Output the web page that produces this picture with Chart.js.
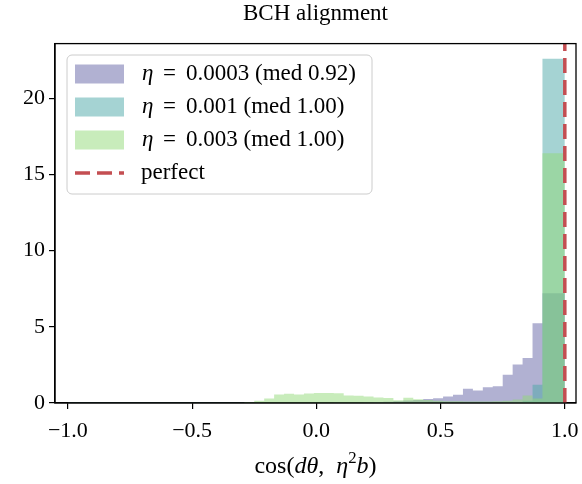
<!DOCTYPE html>
<html>
<head>
  <meta charset="utf-8">
  <title>BCH alignment</title>
  <script src="https://cdn.jsdelivr.net/npm/chart.js"></script>
  <style>
    body { margin: 0; background: #fff; }
    #wrap { width: 582px; height: 484px; }
  </style>
</head>
<body>
  <div id="wrap"><canvas id="hist" width="582" height="484"></canvas></div>

  <script>
    // histogram bin edges (shared by the three runs)
    const binEdges = [-1.0, -0.97, -0.93, -0.89, -0.85, -0.81, -0.77, -0.73, -0.69, -0.65,
      -0.61, -0.57, -0.53, -0.49, -0.45, -0.41, -0.37, -0.33, -0.29, -0.25,
      -0.21, -0.17, -0.13, -0.09, -0.05, -0.01, 0.03, 0.07, 0.11, 0.15,
      0.19, 0.23, 0.27, 0.31, 0.35, 0.39, 0.43, 0.47, 0.51, 0.55,
      0.59, 0.63, 0.67, 0.71, 0.75, 0.79, 0.83, 0.87, 0.91, 0.95, 1.0];

    // density per bin
    const eta0003 = [0.02, 0.02, 0.02, 0.02, 0.02, 0.02, 0.02, 0.02, 0.02, 0.02,
      0.02, 0.02, 0.02, 0.02, 0.02, 0.02, 0.02, 0.02, 0.02, 0.02,
      0.02, 0.02, 0.02, 0.02, 0.02, 0.02, 0.02, 0.02, 0.03, 0.03,
      0.04, 0.05, 0.06, 0.08, 0.12, 0.16, 0.2, 0.27, 0.32, 0.43,
      0.54, 0.93, 0.82, 1.04, 1.1, 1.85, 2.53, 2.95, 5.24, 7.2];
    const eta001 = [0.01, 0.01, 0.01, 0.01, 0.01, 0.01, 0.01, 0.01, 0.01, 0.01,
      0.01, 0.01, 0.01, 0.01, 0.01, 0.01, 0.01, 0.01, 0.01, 0.01,
      0.01, 0.01, 0.01, 0.01, 0.01, 0.01, 0.01, 0.01, 0.01, 0.01,
      0.01, 0.01, 0.01, 0.01, 0.01, 0.01, 0.01, 0.01, 0.01, 0.01,
      0.01, 0.01, 0.01, 0.01, 0.01, 0.03, 0.05, 0.15, 1.2, 22.6];
    const eta003 = [0.02, 0.02, 0.02, 0.02, 0.02, 0.02, 0.02, 0.02, 0.02, 0.02,
      0.02, 0.02, 0.02, 0.02, 0.02, 0.02, 0.02, 0.02, 0.02, 0.05,
      0.15, 0.3, 0.55, 0.6, 0.55, 0.62, 0.65, 0.66, 0.64, 0.5,
      0.47, 0.42, 0.36, 0.33, 0.18, 0.35, 0.25, 0.2, 0.15, 0.12,
      0.12, 0.1, 0.1, 0.1, 0.12, 0.15, 0.23, 0.5, 0.3, 16.4];

    const etaNames = ['0.0003', '0.001', '0.003'];
    const medians = ['0.92', '1.00', '1.00'];
    const xTicks = [-1, -0.5, 0, 0.5, 1];
    const yTicks = [0, 5, 10, 15, 20];

    const FONT = "'Liberation Serif', 'Times New Roman', serif";

    function stepPoints(h) {
      const pts = h.map((y, i) => ({ x: binEdges[i], y }));
      pts.push({ x: binEdges[h.length], y: h[h.length - 1] });
      return pts;
    }

    function histSet(h, color, order) {
      return {
        data: stepPoints(h), stepped: 'after', fill: 'origin',
        backgroundColor: color, borderWidth: 0, pointRadius: 0, order
      };
    }

    // draw a run of [text, style] pieces, styles: r (roman), i (italic), s (superscript)
    function drawPieces(ctx, pieces, size, cx, cy) {
      const fontOf = st => (st === 'i' ? 'italic ' : '') + (st === 's' ? size * 0.7 : size) + 'px ' + FONT;
      let total = 0;
      pieces.forEach(([t, st]) => { ctx.font = fontOf(st); total += ctx.measureText(t).width; });
      let x = cx - total / 2;
      pieces.forEach(([t, st]) => {
        ctx.font = fontOf(st);
        ctx.fillText(t, x, st === 's' ? cy - size * 0.35 : cy);
        x += ctx.measureText(t).width;
      });
    }

    // frame, legend and axis label drawn on top of the plot
    const framePlugin = {
      id: 'frame',
      afterDatasetsDraw(chart) {
        const { ctx, chartArea: a } = chart;
        ctx.save();
        ctx.strokeStyle = '#000';
        ctx.lineWidth = 1.3;
        ctx.strokeRect(a.left, a.top, a.right - a.left, a.bottom - a.top);

        // legend box
        const bx = 67, by = 55, bw = 305, bh = 139, r = 5;
        ctx.beginPath();
        ctx.moveTo(bx + r, by);
        ctx.arcTo(bx + bw, by, bx + bw, by + bh, r);
        ctx.arcTo(bx + bw, by + bh, bx, by + bh, r);
        ctx.arcTo(bx, by + bh, bx, by, r);
        ctx.arcTo(bx, by, bx + bw, by, r);
        ctx.closePath();
        ctx.fillStyle = 'rgba(255,255,255,0.85)';
        ctx.fill();
        ctx.strokeStyle = '#cccccc';
        ctx.lineWidth = 1;
        ctx.stroke();

        const rows = [74, 107, 140, 173];
        const ds = chart.data.datasets;
        ctx.textBaseline = 'middle';
        for (let i = 0; i < 3; i++) {
          ctx.fillStyle = ds[i].backgroundColor;
          ctx.fillRect(75, rows[i] - 9.5, 49, 19);
          ctx.fillStyle = '#000';
          ctx.font = 'italic 23px ' + FONT;
          ctx.fillText('\u03b7', 142, rows[i]);
          ctx.font = '23px ' + FONT;
          ctx.fillText('=', 163, rows[i]);
          ctx.fillText(etaNames[i] + ' (med ' + medians[i] + ')', 186, rows[i]);
        }
        ctx.strokeStyle = ds[3].borderColor;
        ctx.lineWidth = 3.5;
        ctx.setLineDash([15, 7]);
        ctx.beginPath();
        ctx.moveTo(75, rows[3]);
        ctx.lineTo(124, rows[3]);
        ctx.stroke();
        ctx.setLineDash([]);
        ctx.fillStyle = '#000';
        ctx.font = '23px ' + FONT;
        ctx.fillText('perfect', 141, rows[3]);

        // x axis label with math italics
        drawPieces(ctx, [['cos(', 'r'], ['d\u03b8', 'i'], [',  ', 'r'], ['\u03b7', 'i'],
          ['2', 's'], ['b', 'i'], [')', 'r']], 24, (a.left + a.right) / 2, 467);
        ctx.restore();
      }
    };

    const fmt = v => (v < 0 ? '\u2212' : '') + Math.abs(v).toFixed(1);

    new Chart(document.getElementById('hist'), {
      type: 'line',
      data: {
        datasets: [
          histSet(eta0003, 'rgba(100,100,165,0.5)', 4),
          histSet(eta001, 'rgba(75,168,168,0.5)', 3),
          histSet(eta003, 'rgba(145,218,120,0.5)', 2),
          {
            data: [{ x: 1, y: 0 }, { x: 1, y: 23.6 }],
            borderColor: '#c44e52', borderWidth: 3.5, borderDash: [15, 7],
            pointRadius: 0, fill: false, order: 1
          }
        ]
      },
      options: {
        responsive: false,
        animation: false,
        devicePixelRatio: 1,
        layout: { padding: { left: 0, right: 6, top: 0, bottom: 0 } },
        plugins: {
          legend: { display: false },
          tooltip: { enabled: false },
          title: {
            display: true, text: 'BCH alignment', color: '#000', fullSize: false,
            font: { family: FONT, size: 23, weight: 'normal' },
            padding: { top: 0, bottom: 16 }
          }
        },
        scales: {
          x: {
            type: 'linear', min: -1.052, max: 1.045,
            afterBuildTicks: s => { s.ticks = xTicks.map(v => ({ value: v })); },
            afterFit: s => { s.height = 81; s.paddingLeft = 0; s.paddingRight = 0; },
            ticks: { color: '#000', font: { family: FONT, size: 22 }, padding: 9, callback: fmt, maxRotation: 0 },
            grid: { drawOnChartArea: false, drawTicks: true, tickLength: 6, color: '#000', lineWidth: 1.2 },
            border: { display: true, color: '#000', width: 1.3 }
          },
          y: {
            min: 0, max: 23.6,
            afterBuildTicks: s => { s.ticks = yTicks.map(v => ({ value: v })); },
            afterFit: s => { s.width = 55; s.paddingTop = 0; s.paddingBottom = 0; },
            ticks: { color: '#000', font: { family: FONT, size: 22 }, padding: 4 },
            grid: { drawOnChartArea: false, drawTicks: true, tickLength: 6, color: '#000', lineWidth: 1.2 },
            border: { display: true, color: '#000', width: 1.3 }
          }
        }
      },
      plugins: [framePlugin]
    });
  </script>
</body>
</html>
